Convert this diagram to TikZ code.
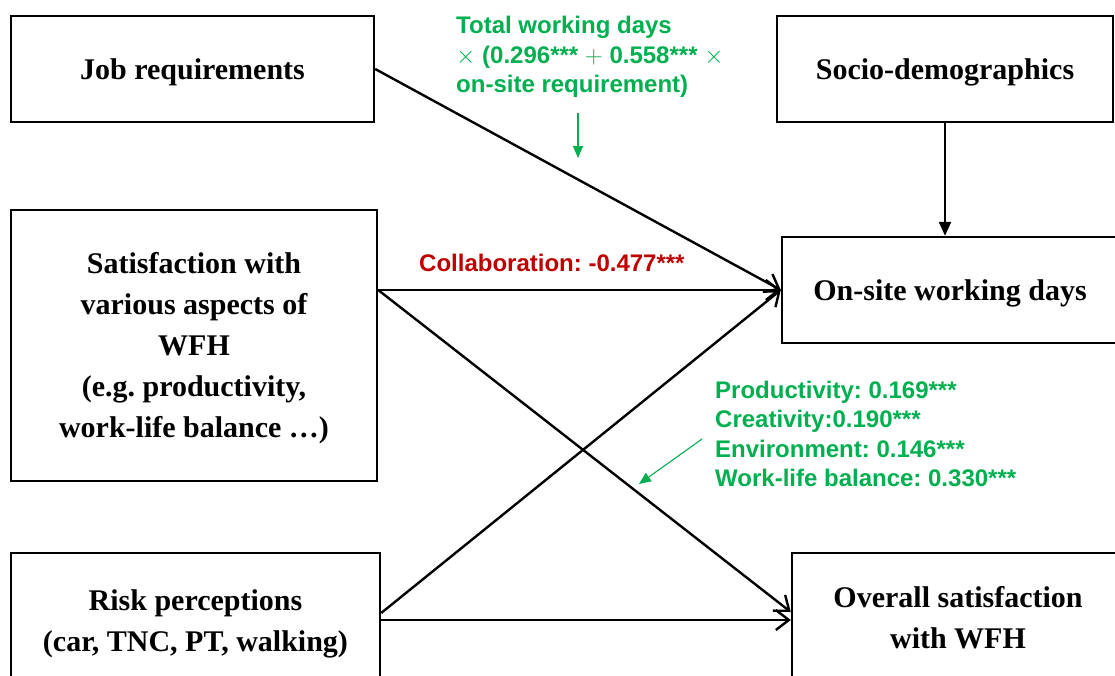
\documentclass[tikz,border=0pt]{standalone}
\usepackage{fontspec}
\setmainfont{Liberation Serif}
\setsansfont{Liberation Sans}
\usetikzlibrary{arrows.meta}
\definecolor{labgreen}{HTML}{00B050}
\definecolor{labred}{HTML}{C00000}

\begin{document}
\frenchspacing
\begin{tikzpicture}[x=1pt,y=-1pt,
  box/.style={draw,line width=2.4pt,align=center,inner sep=0pt,
    font=\fontsize{30}{41}\selectfont\bfseries,
    execute at begin node={\rule{0pt}{28pt}}},
  link/.style={line width=2.4pt,-{Straight Barb[length=13pt,width=20pt]}},
  coef/.style={align=left,anchor=west,inner sep=0pt,
    font=\fontsize{24}{29.5}\selectfont\sffamily\bfseries},
  pointer/.style={labgreen,line width=1.1pt,-{Triangle[length=12pt,width=10pt]}}]
  \clip (0,0) rectangle (1115,675);
  \fill[white] (0,0) rectangle (1115,675);
  % left column
  \node[box,minimum width=363pt,minimum height=106pt] (job) at (192.5,69) {Job requirements};
  \node[box,minimum width=366pt,minimum height=271pt] (sat) at (194,345.5)
    {Satisfaction with\rule{0pt}{27pt}\\various aspects of\\WFH\\(e.g. productivity,\\work-life balance …)};
  \node[box,minimum width=369pt,minimum height=134pt] (risk) at (195.5,620)
    {Risk perceptions\rule{0pt}{28.5pt}\\(car, TNC, PT, walking)};
  % right column
  \node[box,minimum width=336pt,minimum height=106pt] (socio) at (945,69) {Socio-demographics};
  \node[box,minimum width=336pt,minimum height=106pt] (site) at (950,290) {On-site working days};
  \node[box,minimum width=332pt,minimum height=130pt] (over) at (958,618)
    {Overall satisfaction\\with WFH};
  % paths
  \draw[link] (job.east) -- (site.west);
  \draw[link] ([yshift=55.5pt]sat.east) -- (site.west);
  \draw[link] ([yshift=55.5pt]sat.east) -- ([yshift=6pt]over.west);
  \draw[link] ([yshift=7pt]risk.east) -- (site.west);
  \draw[link] (risk.east) -- ([yshift=-2pt]over.west);
  \draw[line width=2.2pt,-{Triangle[length=14pt,width=12pt]}] (socio.south) -- (socio.south |- site.north);
  % coefficients
  \node[coef,labgreen] (days) at (456,57)
    {Total working days\\$\times$ (0.296*** $+$ 0.558*** $\times$\\on-site requirement)};
  \node[coef,labred] (collab) at (419,263) {Collaboration:\ -0.477***};
  \node[coef,labgreen] (aspects) at (715,434)
    {Productivity: 0.169***\\Creativity:0.190***\\Environment: 0.146***\\Work-life balance: 0.330***};
  \coordinate (d1) at (578,113);
  \coordinate (d2) at (578,158);
  \coordinate (a1) at (702,439);
  \coordinate (a2) at (639,484);
  \draw[pointer] (d1) -- (d2);
  \draw[pointer] (a1) -- (a2);
\end{tikzpicture}
\end{document}
